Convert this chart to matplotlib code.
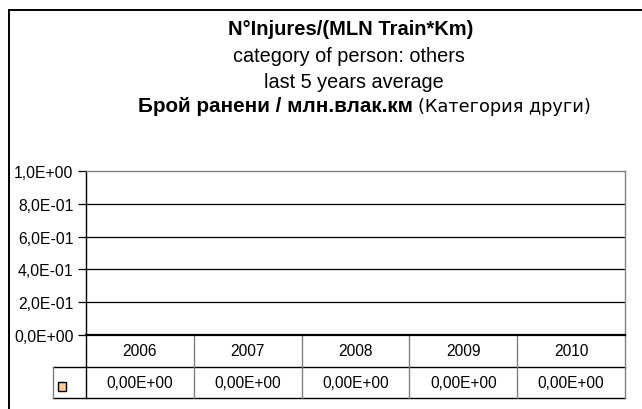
import matplotlib
matplotlib.use("Agg")
import matplotlib.pyplot as plt
import matplotlib.transforms as mtransforms
from matplotlib.patches import Rectangle

plt.rcParams['font.family'] = ['Liberation Sans', 'DejaVu Sans']

years = ['2006', '2007', '2008', '2009', '2010']
values = [0.0, 0.0, 0.0, 0.0, 0.0]
yticks = [0.0, 0.2, 0.4, 0.6, 0.8, 1.0]
ytick_labels = ['0,0E+00', '2,0E-01', '4,0E-01', '6,0E-01', '8,0E-01', '1,0E+00']
value_labels = ['0,00E+00'] * 5
title_lines = ['N°Injures/(MLN Train*Km)', 'category of person: others', 'last 5 years average']
bg_title = 'Брой ранени / млн.влак.км'
bg_sub = '(Категория други)'

W, H = 642, 410
fig = plt.figure(figsize=(W / 100, H / 100), dpi=100)
fig.patch.set_facecolor('white')

def fx(px):
    return px / W

def fy(py):
    return 1 - py / H

# outer chart frame (cropped at right/bottom)
fig.add_artist(plt.Line2D([fx(8.5), fx(8.5)], [fy(10.5), fy(412)], color='black', lw=1.4))
fig.add_artist(plt.Line2D([fx(8.5), fx(645)], [fy(10.5), fy(10.5)], color='black', lw=1.4))

# titles
fig.text(fx(350.5), fy(35), title_lines[0], ha='center', va='baseline', fontsize=14.5, fontweight='bold')
fig.text(fx(349), fy(62), title_lines[1], ha='center', va='baseline', fontsize=14.3)
fig.text(fx(353.5), fy(87.5), title_lines[2], ha='center', va='baseline', fontsize=14.3)
fig.text(fx(138), fy(112), bg_title, ha='left', va='baseline', fontsize=14.9, fontweight='bold')
fig.text(fx(418), fy(112), bg_sub, ha='left', va='baseline', fontsize=12.8,
         family=['DejaVu Sans', 'Liberation Sans'])

# plot axes
left, right, top, bottom = 86, 625, 172, 336
ax = fig.add_axes([fx(left), fy(bottom), fx(right - left), (bottom - top) / H])
ax.set_xlim(0, len(years))
ax.set_ylim(0, 1.0)
ax.set_facecolor('white')
x = list(range(len(years)))
ax.bar([i + 0.5 for i in x], values, width=0.6, color='#FFCC99', edgecolor='black', linewidth=0.8)
for y in yticks[1:-1]:
    ax.axhline(y, color='black', lw=0.9, zorder=1)
ax.set_yticks(yticks)
ax.set_yticklabels(ytick_labels, fontsize=11.3)
ax.tick_params(axis='y', direction='out', length=6, width=0.9, pad=3, color='black')
ax.set_xticks([])
for s in ['top', 'right']:
    ax.spines[s].set_color('#808080')
    ax.spines[s].set_linewidth(1.0)
ax.spines['left'].set_color('black')
ax.spines['left'].set_linewidth(1.0)
ax.spines['bottom'].set_color('black')
ax.spines['bottom'].set_linewidth(1.6)

# data table below axes
trans = mtransforms.blended_transform_factory(ax.transData, ax.transAxes)
ph = bottom - top
y_hdr_bot = -(368 - bottom) / ph
y_val_bot = -(399 - bottom) / ph
y_hdr_mid = (0 + y_hdr_bot) / 2
y_val_mid = (y_hdr_bot + y_val_bot) / 2
lab_left = -(left - 53) / (right - left) * len(years)

kw = dict(transform=trans, clip_on=False)
# horizontal lines
ax.plot([0, len(years)], [y_hdr_bot, y_hdr_bot], color='black', lw=1.0, **kw)
ax.plot([lab_left, 0], [y_hdr_bot, y_hdr_bot], color='black', lw=1.0, **kw)
ax.plot([lab_left, len(years)], [y_val_bot, y_val_bot], color='black', lw=1.0, **kw)
# vertical lines
ax.plot([0, 0], [0, y_val_bot], color='black', lw=1.0, **kw)
for i in range(1, len(years) + 1):
    ax.plot([i, i], [0, y_val_bot], color='#808080', lw=1.0, **kw)
ax.plot([lab_left, lab_left], [y_hdr_bot, y_val_bot], color='#808080', lw=1.0, **kw)

for i, (yr, v) in enumerate(zip(years, value_labels)):
    ax.text(i + 0.5, y_hdr_mid, yr, ha='center', va='center', fontsize=11.2, **kw)
    ax.text(i + 0.5, y_val_mid, v, ha='center', va='center', fontsize=11.2, **kw)

# legend key in row label cell
fig.add_artist(Rectangle((fx(57.5), fy(391.5)), 8 / W, 9 / H, facecolor='#FFCC99',
                         edgecolor='black', lw=1.0))

fig.savefig('out.png', dpi=100, facecolor='white')
